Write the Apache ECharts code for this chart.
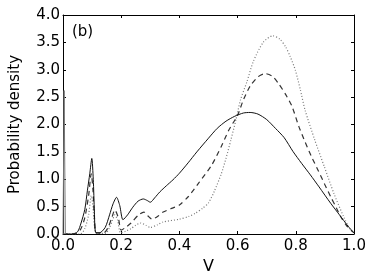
<!DOCTYPE html>
<html><head><meta charset="utf-8">
<script src="https://cdn.jsdelivr.net/npm/echarts@6/dist/echarts.min.js"></script>
<style>html,body{margin:0;padding:0;background:#fff}#c{width:374px;height:280px}</style>
</head><body><div id="c"></div>
<script>
var xTicks = [0, 0.2, 0.4, 0.6, 0.8, 1.0];
var yTicks = [0, 0.5, 1, 1.5, 2, 2.5, 3, 3.5, 4];
var panelLabel = "(b)";
var xName = "V";
var yName = "Probability density";

// narrow spike at V ~ 0 (solid curve)
var vSpike = [0, 0.004, 0.008];
var pSpike = [0, 2.62, 0];

var vSolid = [0.008, 0.03, 0.05, 0.062, 0.075, 0.084, 0.092, 0.099, 0.104, 0.108, 0.112, 0.125, 0.145, 0.16, 0.172, 0.184, 0.195, 0.206, 0.222, 0.24, 0.258, 0.276, 0.29, 0.3, 0.315, 0.333, 0.355, 0.378, 0.4, 0.43, 0.46, 0.5, 0.53, 0.56, 0.59, 0.62, 0.643, 0.67, 0.7, 0.73, 0.76, 0.79, 0.82, 0.85, 0.88, 0.92, 0.95, 0.98, 1.0];
var pSolid = [0, 0, 0.04, 0.2, 0.45, 0.8, 1.1, 1.38, 1.0, 0.4, 0.03, 0.02, 0.12, 0.35, 0.55, 0.67, 0.52, 0.26, 0.35, 0.49, 0.6, 0.64, 0.61, 0.58, 0.66, 0.77, 0.88, 0.99, 1.11, 1.3, 1.5, 1.75, 1.93, 2.06, 2.15, 2.21, 2.22, 2.19, 2.09, 1.93, 1.76, 1.51, 1.29, 1.08, 0.86, 0.56, 0.35, 0.14, 0.02];

var vDashed = [0, 0.04, 0.06, 0.075, 0.088, 0.097, 0.103, 0.108, 0.115, 0.14, 0.155, 0.168, 0.178, 0.19, 0.2, 0.215, 0.234, 0.26, 0.278, 0.292, 0.306, 0.325, 0.344, 0.37, 0.4, 0.43, 0.466, 0.51, 0.544, 0.57, 0.6, 0.62, 0.643, 0.67, 0.694, 0.72, 0.743, 0.765, 0.787, 0.81, 0.832, 0.855, 0.876, 0.9, 0.92, 0.94, 0.953, 0.975, 1.0];
var pDashed = [0, 0, 0.08, 0.3, 0.7, 1.1, 0.8, 0.3, 0.02, 0.02, 0.12, 0.3, 0.44, 0.3, 0.07, 0.12, 0.2, 0.35, 0.4, 0.33, 0.27, 0.32, 0.4, 0.46, 0.53, 0.68, 0.93, 1.25, 1.6, 1.9, 2.17, 2.45, 2.7, 2.87, 2.93, 2.88, 2.73, 2.55, 2.33, 1.97, 1.68, 1.4, 1.17, 0.9, 0.68, 0.47, 0.33, 0.15, 0.02];

var vDotted = [0, 0.06, 0.075, 0.088, 0.097, 0.103, 0.108, 0.115, 0.145, 0.16, 0.17, 0.178, 0.188, 0.198, 0.215, 0.234, 0.25, 0.267, 0.285, 0.3, 0.325, 0.344, 0.4, 0.432, 0.455, 0.48, 0.5, 0.52, 0.544, 0.56, 0.577, 0.594, 0.61, 0.632, 0.654, 0.688, 0.721, 0.745, 0.765, 0.78, 0.798, 0.815, 0.832, 0.865, 0.898, 0.931, 0.964, 0.985, 1.0];
var pDotted = [0, 0, 0.1, 0.35, 0.7, 0.5, 0.15, 0.01, 0.01, 0.12, 0.25, 0.35, 0.25, 0.02, 0.05, 0.1, 0.16, 0.2, 0.16, 0.12, 0.17, 0.22, 0.27, 0.32, 0.38, 0.47, 0.57, 0.78, 1.1, 1.38, 1.72, 2.08, 2.45, 2.78, 3.15, 3.5, 3.62, 3.56, 3.42, 3.25, 3.0, 2.65, 2.26, 1.72, 1.23, 0.74, 0.32, 0.1, 0.02];

function pairs(v, p) { return v.map(function (x, i) { return [x, p[i]]; }); }

var font = "DejaVu Sans";
var chart = echarts.init(document.getElementById('c'), null, {renderer: 'canvas'});
var axBase = {
  type: 'value',
  axisLine: {show: true, onZero: false, lineStyle: {color: '#000', width: 1}},
  axisTick: {show: true, inside: true, length: 3, lineStyle: {color: '#000'}},
  splitLine: {show: false}
};
chart.setOption({
  animation: false,
  grid: {left: 53, right: 20, top: 15, bottom: 46},
  xAxis: [
    Object.assign({}, axBase, {min: 0, max: 1, interval: 0.2, position: 'bottom',
      name: xName, nameLocation: 'middle', nameGap: 25,
      nameTextStyle: {fontFamily: font, fontSize: 16, color: '#000'},
      axisLabel: {margin: 5, fontFamily: font, fontSize: 15, color: '#000',
        formatter: function (v) { return v.toFixed(1); }}}),
    Object.assign({}, axBase, {min: 0, max: 1, interval: 0.2, position: 'top', axisLabel: {show: false}})
  ],
  yAxis: [
    Object.assign({}, axBase, {min: 0, max: 4, interval: 0.5, position: 'left',
      name: yName, nameLocation: 'middle', nameGap: 40,
      nameTextStyle: {fontFamily: font, fontSize: 15, color: '#000'},
      axisLabel: {margin: 3, fontFamily: font, fontSize: 15, color: '#000',
        formatter: function (v) { return v.toFixed(1); }}}),
    Object.assign({}, axBase, {min: 0, max: 4, interval: 0.5, position: 'right', axisLabel: {show: false}})
  ],
  graphic: [{type: 'text', left: 72, top: 25, style: {text: panelLabel, font: '15px "DejaVu Sans"', fill: '#000'}}],
  series: [
    {type: 'line', data: pairs(vDotted, pDotted), showSymbol: false, smooth: 0.25,
      lineStyle: {color: '#777', width: 1.2, type: [1, 2]}},
    {type: 'line', data: pairs(vDashed, pDashed), showSymbol: false, smooth: 0.25,
      lineStyle: {color: '#333', width: 1.2, type: [5, 4]}},
    {type: 'line', data: pairs(vSolid, pSolid), showSymbol: false, smooth: 0.25,
      lineStyle: {color: '#111', width: 1}},
    {type: 'line', data: pairs(vSpike, pSpike), showSymbol: false, smooth: false,
      lineStyle: {color: '#777', width: 1}}
  ]
});
</script></body></html>
